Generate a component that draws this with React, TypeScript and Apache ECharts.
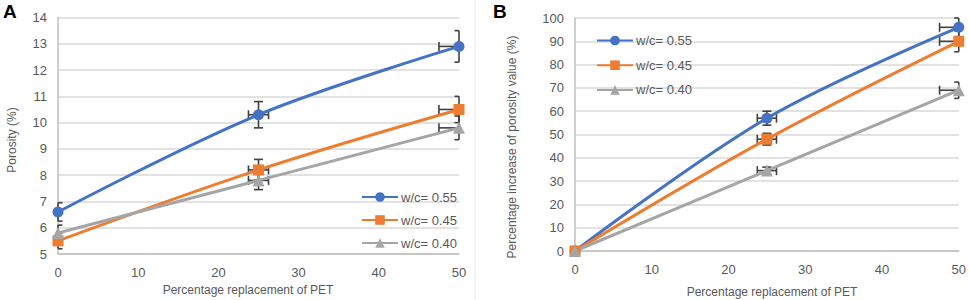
import React, { useEffect, useRef } from "react";
import * as echarts from "echarts";

const xValues = [0, 25, 50];
const xErrors = [0, 1.25, 2.5];
const seriesNames = ["w/c= 0.55", "w/c= 0.45", "w/c= 0.40"];
const colors = ["#4472C4", "#ED7D31", "#A5A5A5"];
const symbols = ["circle", "rect", "triangle"];

const porosity055 = [6.6, 10.3, 12.9];
const porosity045 = [5.5, 8.2, 10.5];
const porosity040 = [5.8, 7.8, 9.8];
const porosityErr055 = [0.35, 0.5, 0.6];
const porosityErr045 = [0.3, 0.4, 0.5];
const porosityErr040 = [0.3, 0.35, 0.45];

const increase055 = [0, 57, 96];
const increase045 = [0, 48, 90];
const increase040 = [0, 34.5, 69];
const increaseErr055 = [0, 3, 4];
const increaseErr045 = [0, 2.5, 4.5];
const increaseErr040 = [0, 1.5, 3.5];

const FONT = "Liberation Sans";
const TXT = "#595959";

function errRender(params: any, api: any) {
  const x = api.value(0);
  const y = api.value(1);
  const ex = api.value(2);
  const ey = api.value(3);
  const cs = params.coordSys;
  const cx = (v: number) => Math.max(cs.x, Math.min(cs.x + cs.width, v));
  const cy = (v: number) => Math.max(cs.y, Math.min(cs.y + cs.height, v));
  const c = api.coord([x, y]);
  const top = api.coord([x, y + ey])[1];
  const bot = api.coord([x, y - ey])[1];
  const left = api.coord([x - ex, y])[0];
  const right = api.coord([x + ex, y])[0];
  const cap = 4.5;
  const style = { stroke: "#404040", lineWidth: 1.6 };
  const children: any[] = [];
  const seg = (x1: number, y1: number, x2: number, y2: number) => {
    const a = cx(x1), b = cy(y1), c2 = cx(x2), d = cy(y2);
    if (Math.abs(a - c2) < 0.01 && Math.abs(b - d) < 0.01) return;
    children.push({ type: "line", shape: { x1: a, y1: b, x2: c2, y2: d }, style });
  };
  if (ey > 0) {
    seg(c[0], top, c[0], bot);
    seg(c[0] - cap, top, c[0] + cap, top);
    seg(c[0] - cap, bot, c[0] + cap, bot);
  }
  if (ex > 0) {
    seg(left, c[1], right, c[1]);
    if (left >= cs.x) seg(left, c[1] - cap, left, c[1] + cap);
    if (right <= cs.x + cs.width) seg(right, c[1] - cap, right, c[1] + cap);
  }
  return { type: "group", children };
}

function lineSeries(i: number, values: number[], axisIndex: number) {
  return {
    type: "line",
    name: seriesNames[i],
    xAxisIndex: axisIndex,
    yAxisIndex: axisIndex,
    data: xValues.map((x, k) => [x, values[k]]),
    smooth: 0.35,
    symbol: symbols[i],
    symbolSize: i === 2 ? 12 : 11,
    lineStyle: { color: colors[i], width: 3 },
    itemStyle: { color: colors[i] },
    z: 3,
  };
}

function errSeries(values: number[], errs: number[], axisIndex: number) {
  return {
    type: "custom",
    xAxisIndex: axisIndex,
    yAxisIndex: axisIndex,
    renderItem: errRender,
    data: xValues.map((x, k) => [x, values[k], xErrors[k], errs[k]]),
    z: 2,
    silent: true,
  };
}

const axisLabel = { color: TXT, fontFamily: FONT, fontSize: 13 };
const gridLine = { show: true, lineStyle: { color: "#d9d9d9", width: 1.5 } };

export default function App() {
  const ref = useRef<HTMLDivElement>(null);
  useEffect(() => {
    if (!ref.current) return;
    const chart = echarts.init(ref.current, null, { renderer: "svg" });
    chart.setOption({
      animation: false,
      backgroundColor: "#ffffff",
      grid: [
        { left: 58, right: 510, top: 17.5, bottom: 46 },
        { left: 575, right: 10, top: 18, bottom: 49 },
      ],
      xAxis: [0, 1].map((gi) => ({
        type: "value",
        gridIndex: gi,
        min: 0,
        max: 50,
        interval: 10,
        axisLine: { show: true, onZero: false, lineStyle: { color: "#bfbfbf", width: 1.5 } },
        axisTick: { show: false },
        splitLine: { show: false },
        axisLabel: { ...axisLabel, margin: 12 },
      })),
      yAxis: [
        {
          type: "value",
          gridIndex: 0,
          min: 5,
          max: 14,
          interval: 1,
          axisLine: { show: true, lineStyle: { color: "#bfbfbf", width: 1.5 } },
          axisTick: { show: false },
          splitLine: gridLine,
          axisLabel: { ...axisLabel, margin: 11 },
        },
        {
          type: "value",
          gridIndex: 1,
          min: 0,
          max: 100,
          interval: 10,
          axisLine: { show: true, lineStyle: { color: "#bfbfbf", width: 1.5 } },
          axisTick: { show: false },
          splitLine: gridLine,
          axisLabel: { ...axisLabel, margin: 11 },
        },
      ],
      legend: [
        {
          left: 356,
          top: 185.5,
          orient: "vertical",
          itemWidth: 36,
          itemHeight: 12,
          itemGap: 10,
          data: seriesNames,
          textStyle: { color: TXT, fontFamily: FONT, fontSize: 13, padding: [0, 0, 0, -2] },
          selectedMode: false,
        },
        {
          left: 591,
          top: 29,
          orient: "vertical",
          itemWidth: 36,
          itemHeight: 12,
          itemGap: 11.7,
          data: seriesNames,
          textStyle: { color: TXT, fontFamily: FONT, fontSize: 13, padding: [0, 0, 0, -2] },
          selectedMode: false,
        },
      ],
      graphic: [
        { type: "text", left: 3, top: 2, style: { text: "A", font: `bold 19px "${FONT}"`, fill: "#000" } },
        { type: "text", left: 493, top: 2, style: { text: "B", font: `bold 19px "${FONT}"`, fill: "#000" } },
        {
          type: "text",
          x: 12,
          y: 140,
          rotation: Math.PI / 2,
          style: { text: "Porosity (%)", font: `12px "${FONT}"`, fill: TXT, align: "center", verticalAlign: "middle" },
        },
        {
          type: "text",
          x: 248,
          y: 290,
          style: { text: "Percentage replacement of PET", font: `12px "${FONT}"`, fill: TXT, align: "center", verticalAlign: "middle" },
        },
        {
          type: "text",
          x: 512,
          y: 147,
          rotation: Math.PI / 2,
          style: { text: "Percentage increase of porosity value (%)", font: `12px "${FONT}"`, fill: TXT, align: "center", verticalAlign: "middle" },
        },
        {
          type: "text",
          x: 772,
          y: 291.5,
          style: { text: "Percentage replacement of PET", font: `12px "${FONT}"`, fill: TXT, align: "center", verticalAlign: "middle" },
        },
        {
          type: "line",
          shape: { x1: 475, y1: 0, x2: 475, y2: 300 },
          style: { stroke: "#e6e6e6", lineWidth: 1 },
        },
      ],
      series: [
        errSeries(porosity055, porosityErr055, 0),
        errSeries(porosity045, porosityErr045, 0),
        errSeries(porosity040, porosityErr040, 0),
        lineSeries(0, porosity055, 0),
        lineSeries(1, porosity045, 0),
        lineSeries(2, porosity040, 0),
        errSeries(increase055, increaseErr055, 1),
        errSeries(increase045, increaseErr045, 1),
        errSeries(increase040, increaseErr040, 1),
        lineSeries(0, increase055, 1),
        lineSeries(1, increase045, 1),
        lineSeries(2, increase040, 1),
      ],
    });
    return () => chart.dispose();
  }, []);
  return <div ref={ref} style={{ width: 969, height: 300, position: "absolute", left: 0, top: 0 }} />;
}
